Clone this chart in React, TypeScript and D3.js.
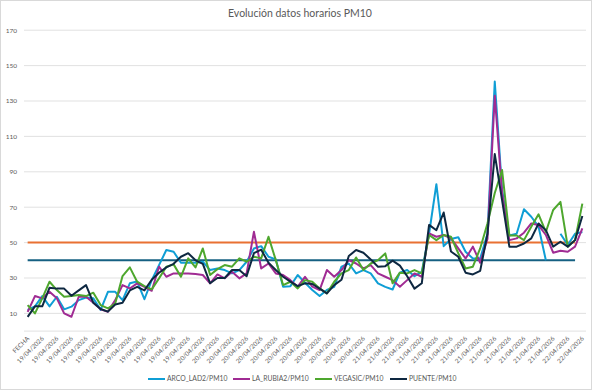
import React from "react";
import * as d3 from "d3";

const W = 598;
const H = 391;
const TITLE = "Evolución datos horarios PM10";

// category labels: first header row, then dates (grouped by day)
const DATE_GROUPS: [string, number][] = [
  ["FECHA", 1],
  ["19/04/2026", 23],
  ["20/04/2026", 24],
  ["21/04/2026", 26],
  ["22/04/2026", 3],
];
const categories: string[] = DATE_GROUPS.flatMap(([d, n]) => Array(n).fill(d));

const arco: (number | null)[] = [
  12, 14, 19.8, 14, 19.4, 12.3, 13.8, 17.5, 19, 18.5,
  12, 22.2, 22.2, 17.5, 27, 28, 18, 28.8, 37.3, 45.8,
  44.8, 38.6, 38.6, 38.6, 39.2, 34.5, 35.4, 34.5, 32.6, 34.5,
  39.2, 46.7, 48, 42, 40.5, 25, 25.4, 31.7, 27.3, 23.2,
  19.8, 23.2, 25, 36.4, 38.2, 32.6, 34.5, 32.6, 27, 25,
  23.5, 33, 34.5, 31, 33.5, 55, 83, 48, 52, 53,
  44.8, 41, 41, 55, 141, 80, 54, 55, 68.8, 64.6,
  59, 40, null, 55, 48.6, 55, 56,
];

const laRubia: number[] = [
  10.9, 19.8, 18.5, 22.2, 18.5, 10, 8.1, 19.4, 19.4, 16,
  12.3, 10.9, 17.5, 26, 24.1, 27, 25, 22.8, 36.4, 30.7,
  32.6, 32.6, 32.6, 32.2, 31.7, 27, 32, 29.8, 33.5, 29.8,
  32.6, 56.1, 35.4, 38.2, 32.6, 31.7, 28.8, 25.1, 30.7, 25.1,
  23.2, 34.5, 30.7, 34.5, 40.1, 38.2, 35.4, 37.3, 32.6, 30.7,
  28.8, 25.1, 28.8, 32.6, 30.7, 55.2, 53.3, 54.3, 52.4, 46.7,
  41, 47.7, 38.6, 52, 133, 78, 51.4, 52.4, 55.6, 60.8,
  59.9, 54.3, 44.3, 45.4, 44.8, 47.7, 58,
];

const vegasic: number[] = [
  14.7, 10, 18.5, 27.9, 23.2, 19.4, 19.8, 20.4, 19.8, 21.7,
  14.7, 12.8, 15.6, 31.1, 36, 27.9, 25.4, 23.6, 29.8, 36.4,
  37.7, 30.7, 41.1, 36, 46.7, 31.7, 35, 37.3, 36.4, 41.1,
  39.2, 42, 41.1, 53.3, 40.1, 26, 27.9, 24.1, 28.8, 27.9,
  24.1, 21.3, 27.9, 32.6, 34.5, 41.6, 34.5, 38.2, 40.1, 43.9,
  27, 33, 32.6, 34.5, 32.6, 54.3, 51.4, 54.3, 53.3, 44,
  35.4, 36.4, 46.7, 60.8, 78, 91, 54, 54, 51.4, 59,
  66, 56, 68.4, 73, 47.7, 51.4, 72,
];

const puente: number[] = [
  8, 14, 14, 24.5, 24, 24, 20, 23, 26, 16,
  12.5, 11, 15, 16, 23, 25, 23, 29, 33, 36,
  38, 42, 44, 40, 38, 27, 30, 30, 34.5, 34.5,
  31, 44, 46, 38.6, 34.5, 30.7, 28, 25.4, 27, 26.6,
  24, 21.3, 26, 29, 42.4, 45.8, 44.3, 40.5, 36.4, 36.7,
  39.8, 37, 31, 24, 27, 60, 57, 67, 45, 42,
  33, 32, 34, 55, 100, 74, 47.7, 47.7, 49.5, 52.4,
  60.8, 57, 47.7, 50.5, 47.7, 51.4, 65,
];

const SERIES_NAMES = ["ARCO_LAD2/PM10", "LA_RUBIA2/PM10", "VEGASIC/PM10", "PUENTE/PM10"];
const SERIES_COLORS = ["#0F9ED5", "#A02B93", "#4EA72E", "#0E2841"];
const seriesValues = [arco, laRubia, vegasic, puente];

const LIMIT_VALUES = [50, 40];
const LIMIT_COLORS = ["#E97132", "#156082"];
const LIMIT_LAST_INDEX = 75;

const Y_TICKS = [10, 30, 50, 70, 90, 110, 130, 150, 170];

const FONT = "Lato, 'Noto Sans', sans-serif";
const TEXT_COLOR = "#595959";

export default function App() {
  const idx = categories.map((_, i) => i);
  const x = d3.scalePoint<number>().domain(idx).range([24, 586]).padding(0.5);
  const y = d3.scaleLinear().domain([0, 170]).range([331.1, 30.2]);

  const line = d3
    .line<number | null>()
    .defined((d) => d !== null)
    .x((_, i) => x(i) as number)
    .y((d) => y(d as number));

  const legendX = [148, 233, 315, 390];

  return (
    <svg
      width={W}
      height={H}
      style={{ position: "absolute", left: 0, top: 0, background: "#fff" }}
      fontFamily={FONT}
    >
      <rect x={0.5} y={0.5} width={591} height={389} fill="#fff" stroke="#d9d9d9" />
      <text x={300} y={17} textAnchor="middle" fontSize={10.5} fill={TEXT_COLOR}>
        {TITLE}
      </text>

      {/* gridlines */}
      {[0, ...Y_TICKS].map((t) => (
        <line key={t} x1={24} x2={586} y1={y(t)} y2={y(t)} stroke="#d9d9d9" strokeWidth={0.8} />
      ))}
      {Y_TICKS.map((t) => (
        <text key={t} x={17} y={y(t) + 2.3} textAnchor="end" fontSize={6.5} fill={TEXT_COLOR}>
          {t}
        </text>
      ))}

      {/* x labels every other category */}
      {idx
        .filter((i) => i % 2 === 0)
        .map((i) => (
          <text
            key={i}
            transform={`translate(${(x(i) as number) + 2},${339}) rotate(-45)`}
            textAnchor="end"
            fontSize={6.3}
            fill={TEXT_COLOR}
          >
            {categories[i]}
          </text>
        ))}

      {/* limit lines */}
      {LIMIT_VALUES.map((v, k) => (
        <line
          key={v}
          x1={x(0)}
          x2={x(LIMIT_LAST_INDEX)}
          y1={y(v)}
          y2={y(v)}
          stroke={LIMIT_COLORS[k]}
          strokeWidth={2}
        />
      ))}

      {/* series */}
      {seriesValues.map((vals, k) => (
        <path
          key={k}
          d={line(vals) || ""}
          fill="none"
          stroke={SERIES_COLORS[k]}
          strokeWidth={2}
          strokeLinejoin="round"
        />
      ))}

      {/* legend */}
      {SERIES_NAMES.map((name, k) => (
        <g key={name}>
          <line
            x1={legendX[k]}
            x2={legendX[k] + 17}
            y1={379}
            y2={379}
            stroke={SERIES_COLORS[k]}
            strokeWidth={2}
          />
          <text x={legendX[k] + 19} y={381.3} fontSize={6.8} fill={TEXT_COLOR}>
            {name}
          </text>
        </g>
      ))}
    </svg>
  );
}
